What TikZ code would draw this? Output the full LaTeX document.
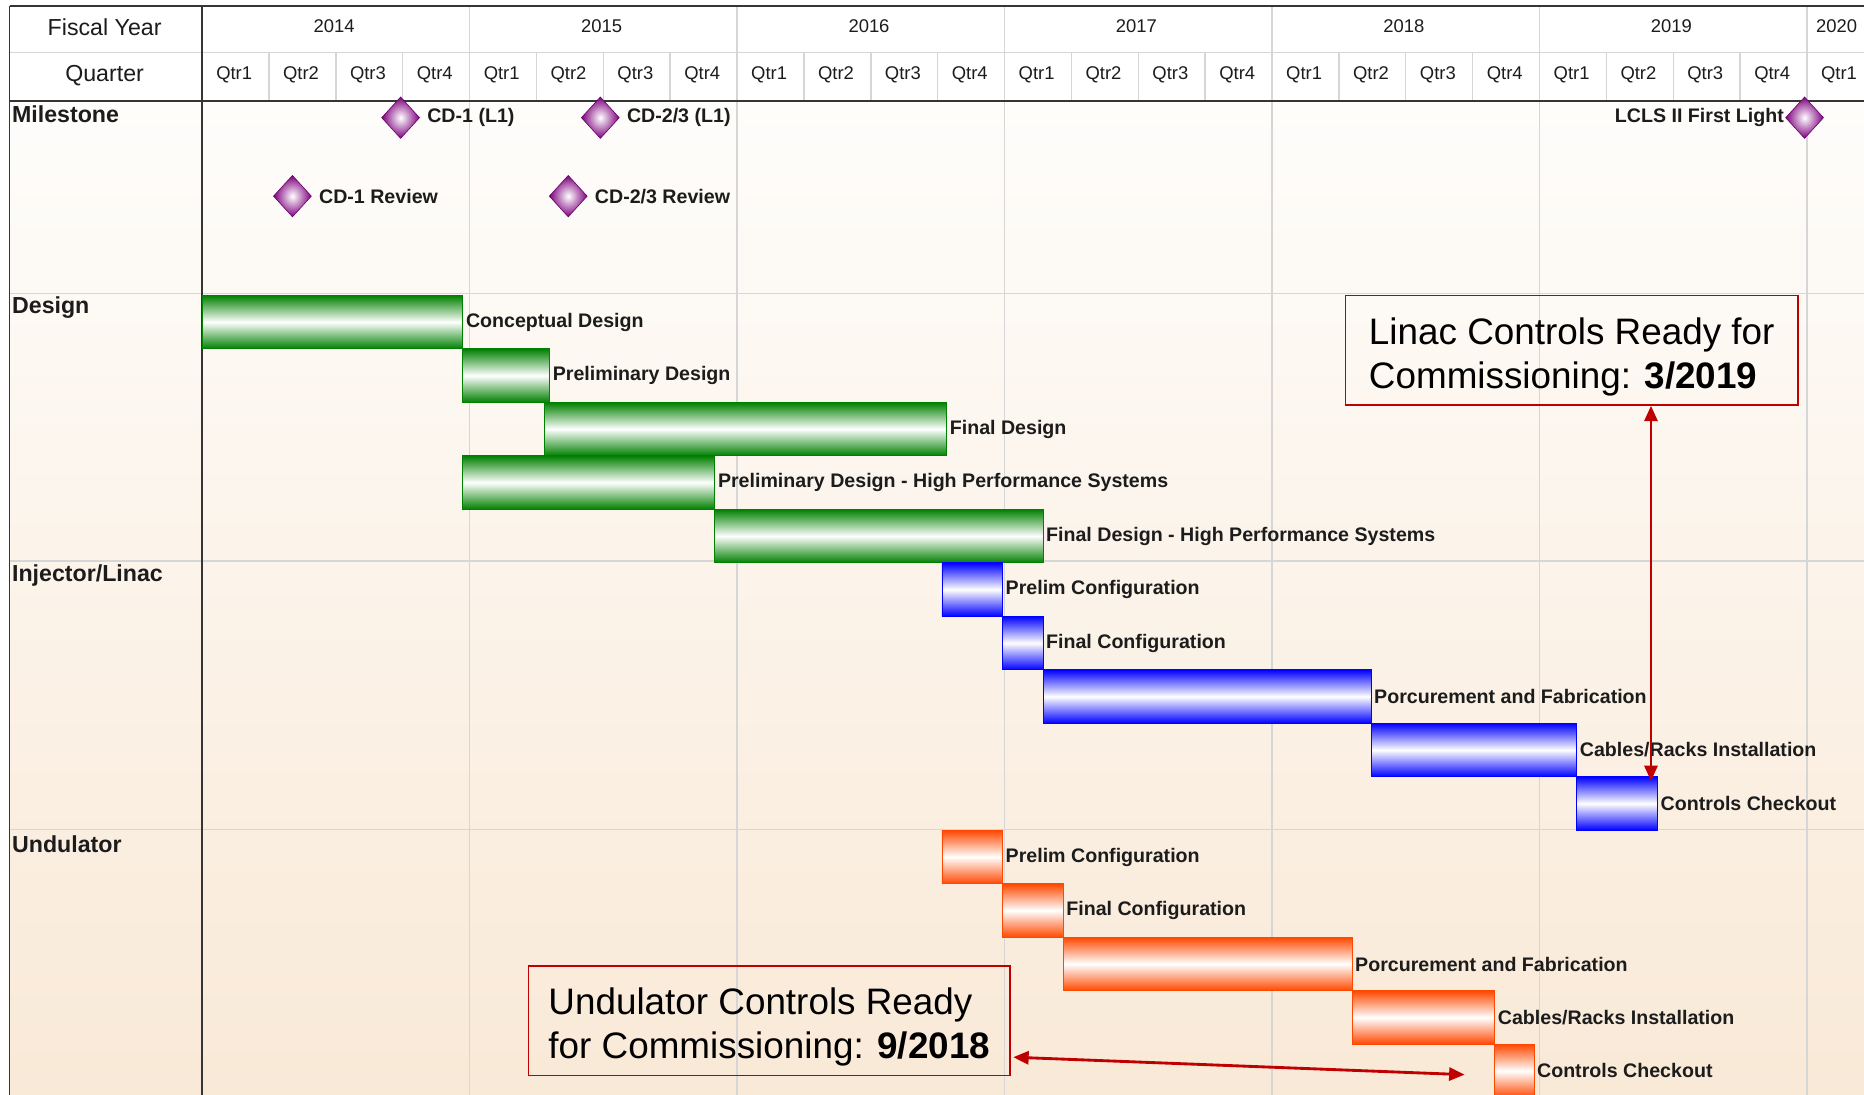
\documentclass[tikz,border=0pt]{standalone}
\usepackage{fontspec}
\setmainfont{Liberation Sans}
\usetikzlibrary{shapes.geometric,arrows.meta,calc}

\definecolor{gridgray}{HTML}{D6D6D6}
\definecolor{framecol}{HTML}{353535}
\definecolor{bgtop}{HTML}{FEFDFB}
\definecolor{bgbot}{HTML}{F9E9D7}
\definecolor{ggreen}{HTML}{008000}
\definecolor{gblue}{HTML}{0000FF}
\definecolor{gorange}{HTML}{FF4800}
\definecolor{mspurple}{HTML}{7E007E}
\definecolor{callred}{HTML}{C00000}
\definecolor{txt}{HTML}{1C1C1C}

\begin{document}
\begin{tikzpicture}[x=1pt,y=-1pt,
  gridline/.style={gridgray, line width=1.2},
  frameline/.style={framecol, line width=1.6},
  hdr/.style={text=txt, font=\fontsize{19.5}{22}\selectfont, inner sep=0},
  qtr/.style={text=txt, font=\fontsize{15.5}{18}\selectfont, inner sep=0},
  sect/.style={text=txt, font=\fontsize{19.5}{22}\selectfont\bfseries, anchor=west, inner sep=0},
  blabel/.style={text=txt, font=\fontsize{16.5}{19}\selectfont\bfseries, anchor=west, inner xsep=2, inner ysep=0},
  bar/.style={draw=#1, line width=0.8, top color=#1, bottom color=#1, middle color=white,
              inner sep=0, minimum height=45, anchor=north west},
  gbar/.style={bar=ggreen},
  bbar/.style={bar=gblue},
  obar/.style={bar=gorange},
  ms/.style={diamond, minimum width=32, minimum height=35, inner sep=0,
             draw=mspurple!80!black, line width=0.5, inner color=white, outer color=mspurple},
  mslabel/.style={text=txt, font=\fontsize{16.5}{19}\selectfont\bfseries, inner sep=0},
  callbox/.style={draw=callred, line width=1.3, anchor=north west, inner sep=0,
                  align=left, text=black, font=\fontsize{31}{37}\selectfont},
  arr/.style={callred, line width=2.4,
              {Triangle[length=13,width=11]}-{Triangle[length=13,width=11]}}
]
\useasboundingbox (0,0) rectangle (1568,921);
\clip (0,0) rectangle (1568,921);
\fill[white] (0,0) rectangle (1568,921);

% body background
\shade[top color=bgtop, bottom color=bgbot] (8,85) rectangle (1568,921);

% grid: year lines, quarter lines, section lines
\foreach \k in {1,...,6}
  \draw[gridline] (170+225*\k,5) -- (170+225*\k,921);
\foreach \k in {1,...,24}{
  \pgfmathtruncatemacro\r{mod(\k,4)}
  \ifnum\r=0\relax\else
    \draw[gridline] (170+56.25*\k,44) -- (170+56.25*\k,85);
  \fi
}
\draw[gridline] (8,44) -- (1568,44);
\foreach \yy in {247,472,698}
  \draw[gridline] (8,\yy) -- (1568,\yy);

% frame
\draw[frameline] (8,5) -- (1568,5);
\draw[frameline] (8,85) -- (1568,85);
\draw[frameline] (8,5) -- (8,921);
\draw[frameline] (170,5) -- (170,921);

% header texts
\node[hdr] (fy) at (88,23) {Fiscal Year};
\node[hdr] (qh) at (88,64) {Quarter};
\foreach \yr [count=\i from 0] in {2014,2015,2016,2017,2018,2019}
  \node[qtr] (yr\i) at (170+225*\i+111,22) {\yr};
\node[qtr] (yr6) at (1545,22) {2020};
\foreach \k in {0,...,24}{
  \pgfmathtruncatemacro\q{mod(\k,4)+1}
  \node[qtr] (q\k) at (170+56.25*\k+27,63) {Qtr\q};
}

% section titles
\node[sect] (sMile) at (10,96) {Milestone};
\node[sect] (sDes) at (10,259) {Design};
\node[sect] (sInj) at (10,484) {Injector/Linac};
\node[sect] (sUnd) at (10,710) {Undulator};

% milestones
\node[ms] (m1) at (337,99) {};
\node[mslabel, anchor=west] (m1l) at ($(m1.east)+(6,0)$) {CD-1 (L1)};
\node[ms] (m2) at (505,99) {};
\node[mslabel, anchor=west] (m2l) at ($(m2.east)+(6,0)$) {CD-2/3 (L1)};
\node[ms] (m3) at (246,165) {};
\node[mslabel, anchor=west] (m3l) at ($(m3.east)+(6,0)$) {CD-1 Review};
\node[ms] (m4) at (478,165) {};
\node[mslabel, anchor=west] (m4l) at ($(m4.east)+(6,0)$) {CD-2/3 Review};
\node[ms] (m5) at (1518,99) {};
\node[mslabel, anchor=east] (m5l) at ($(m5.west)+(-1,0)$) {LCLS II First Light};

% design tasks
\node[gbar, minimum width=219] (d1) at (170,248) {};
\node[blabel] (d1l) at (d1.east) {Conceptual Design};
\node[gbar, minimum width=73] (d2) at (389,293) {};
\node[blabel] (d2l) at (d2.east) {Preliminary Design};
\node[gbar, minimum width=338] (d3) at (458,338) {};
\node[blabel] (d3l) at (d3.east) {Final Design};
\node[gbar, minimum width=212] (d4) at (389,383) {};
\node[blabel] (d4l) at (d4.east) {Preliminary Design - High Performance Systems};
\node[gbar, minimum width=276] (d5) at (601,428) {};
\node[blabel] (d5l) at (d5.east) {Final Design - High Performance Systems};

% injector / linac tasks
\node[bbar, minimum width=51] (i1) at (792,473) {};
\node[blabel] (i1l) at (i1.east) {Prelim Configuration};
\node[bbar, minimum width=34] (i2) at (843,518) {};
\node[blabel] (i2l) at (i2.east) {Final Configuration};
\node[bbar, minimum width=276] (i3) at (877,563) {};
\node[blabel] (i3l) at (i3.east) {Porcurement and Fabrication};
\node[bbar, minimum width=173] (i4) at (1153,608) {};
\node[blabel] (i4l) at (i4.east) {Cables/Racks Installation};
\node[bbar, minimum width=68] (i5) at (1326,653) {};
\node[blabel] (i5l) at (i5.east) {Controls Checkout};

% undulator tasks
\node[obar, minimum width=51] (u1) at (792,698) {};
\node[blabel] (u1l) at (u1.east) {Prelim Configuration};
\node[obar, minimum width=51] (u2) at (843,743) {};
\node[blabel] (u2l) at (u2.east) {Final Configuration};
\node[obar, minimum width=243] (u3) at (894,788) {};
\node[blabel] (u3l) at (u3.east) {Porcurement and Fabrication};
\node[obar, minimum width=120] (u4) at (1137,833) {};
\node[blabel] (u4l) at (u4.east) {Cables/Racks Installation};
\node[obar, minimum width=33] (u5) at (1257,878) {};
\node[blabel] (u5l) at (u5.west -| u5.east) {Controls Checkout};

% callouts
\node[callbox, minimum width=381, minimum height=92] (lbox) at (1131,248)
  {\rule{0pt}{33pt}Linac Controls Ready for\\Commissioning: \textbf{3/2019}};
\node[callbox, minimum width=405, minimum height=92] (ubox) at (444,812)
  {\rule{0pt}{33pt}Undulator Controls Ready\\for Commissioning: \textbf{9/2018}};

\coordinate (lk) at ($(i5.north east)+(-6,4)$);
\draw[arr] (lk |- lbox.south) -- (lk);
\coordinate (us) at ($(ubox.south east)+(2,-16)$);
\coordinate (ue) at (1232,904);
\draw[arr] (us) -- (ue);
\end{tikzpicture}
\end{document}
